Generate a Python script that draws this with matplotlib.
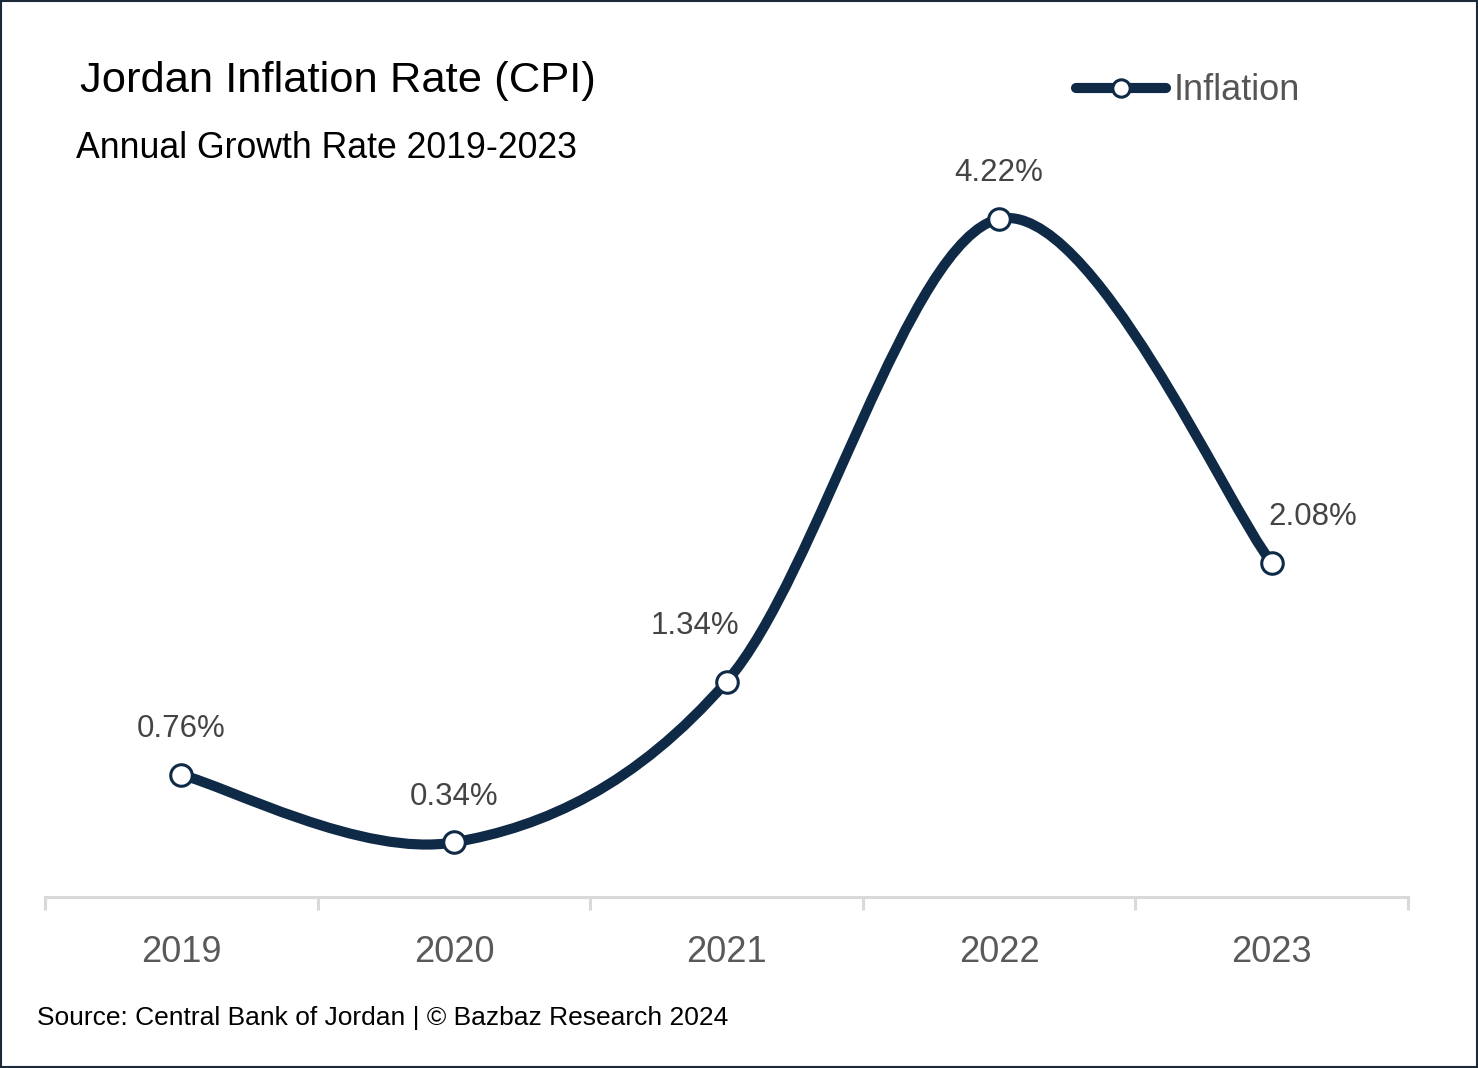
import numpy as np
import matplotlib
matplotlib.use("Agg")
from matplotlib import pyplot as plt
from matplotlib.path import Path
from matplotlib.patches import PathPatch, Rectangle

plt.rcParams.update({
    "font.family": ["Liberation Sans", "DejaVu Sans"],
})

years = ["2019", "2020", "2021", "2022", "2023"]
inflation = [0.76, 0.34, 1.34, 4.22, 2.08]
value_labels = ["0.76%", "0.34%", "1.34%", "4.22%", "2.08%"]
# nudge of the value labels: x in category widths, y in points
label_shift = [0.0, 0.0, -0.115, 0.0, 0.15]
label_rise = [33, 33, 40, 33, 33]

navy = "#0f2a47"
grid_gray = "#d9d9d9"

fig = plt.figure(figsize=(14.78, 10.68), dpi=100)
ax = fig.add_axes([45 / 1478, 171 / 1068, 1363 / 1478, 797 / 1068])

x = np.arange(len(years), dtype=float)
y = np.array(inflation)

# catmull-rom smoothing as bezier segments (like d3 curveCatmullRom)
px = np.concatenate([[x[0]], x, [x[-1]]])
py = np.concatenate([[y[0]], y, [y[-1]]])
verts = [(x[0], y[0])]
codes = [Path.MOVETO]
for i in range(1, len(px) - 2):
    c1 = (px[i] + (px[i + 1] - px[i - 1]) / 6, py[i] + (py[i + 1] - py[i - 1]) / 6)
    c2 = (px[i + 1] - (px[i + 2] - px[i]) / 6, py[i + 1] - (py[i + 2] - py[i]) / 6)
    verts += [c1, c2, (px[i + 1], py[i + 1])]
    codes += [Path.CURVE4] * 3
ax.add_patch(PathPatch(Path(verts, codes), fill=False, edgecolor=navy,
                       lw=7.3, capstyle="round", joinstyle="round", zorder=3))
ax.plot(x, y, ls="none", marker="o", ms=15.5, mfc="white", mec=navy, mew=2.2, zorder=4)

for i, (xv, yv) in enumerate(zip(x, y)):
    ax.annotate(value_labels[i], (xv, yv),
                xytext=(label_shift[i] * 273 / 1.389, label_rise[i]),
                textcoords="offset points", ha="center", va="center",
                fontsize=22.5, color="#444444")

ax.set_xlim(-0.5, 4.5)
ax.set_ylim(0, 4.96)
for s in ["top", "left", "right"]:
    ax.spines[s].set_visible(False)
ax.spines["bottom"].set_color(grid_gray)
ax.spines["bottom"].set_linewidth(2.2)
ax.set_yticks([])
ax.set_xticks(x)
ax.set_xticklabels(years, fontsize=26, color="#595959")
ax.tick_params(axis="x", which="major", length=0, pad=27)
ax.set_xticks(np.arange(-0.5, 5.0, 1.0), minor=True)
ax.tick_params(axis="x", which="minor", length=9, width=2.2, color=grid_gray)

# legend by hand
lx0, lx1, ly = 1076 / 1478, 1166 / 1478, 1 - 88 / 1068
fig.add_artist(plt.Line2D([lx0, lx1], [ly, ly], transform=fig.transFigure,
                          color=navy, lw=7.3, solid_capstyle="round"))
fig.add_artist(plt.Line2D([(lx0 + lx1) / 2], [ly], transform=fig.transFigure,
                          marker="o", ms=12.5, mfc="white", mec=navy, mew=2.2))
fig.text(1174 / 1478, 1 - 91 / 1068, "Inflation", fontsize=26, color="#555555",
         va="center", ha="left")

fig.text(80 / 1478, 1 - 81 / 1068, "Jordan Inflation Rate (CPI)", fontsize=31.3,
         color="black", va="center", ha="left")
fig.text(76 / 1478, 1 - 148 / 1068, "Annual Growth Rate 2019-2023", fontsize=25.7,
         color="black", va="center", ha="left")
fig.text(37 / 1478, 1 - 1018 / 1068, "Source: Central Bank of Jordan | © Bazbaz Research 2024",
         fontsize=19, color="black", va="center", ha="left")

fig.add_artist(Rectangle((0.0007, 0.001), 0.9986, 0.998, transform=fig.transFigure,
                         fill=False, edgecolor="#1b2a3a", lw=1.5))

fig.savefig("out.png", dpi=100)
